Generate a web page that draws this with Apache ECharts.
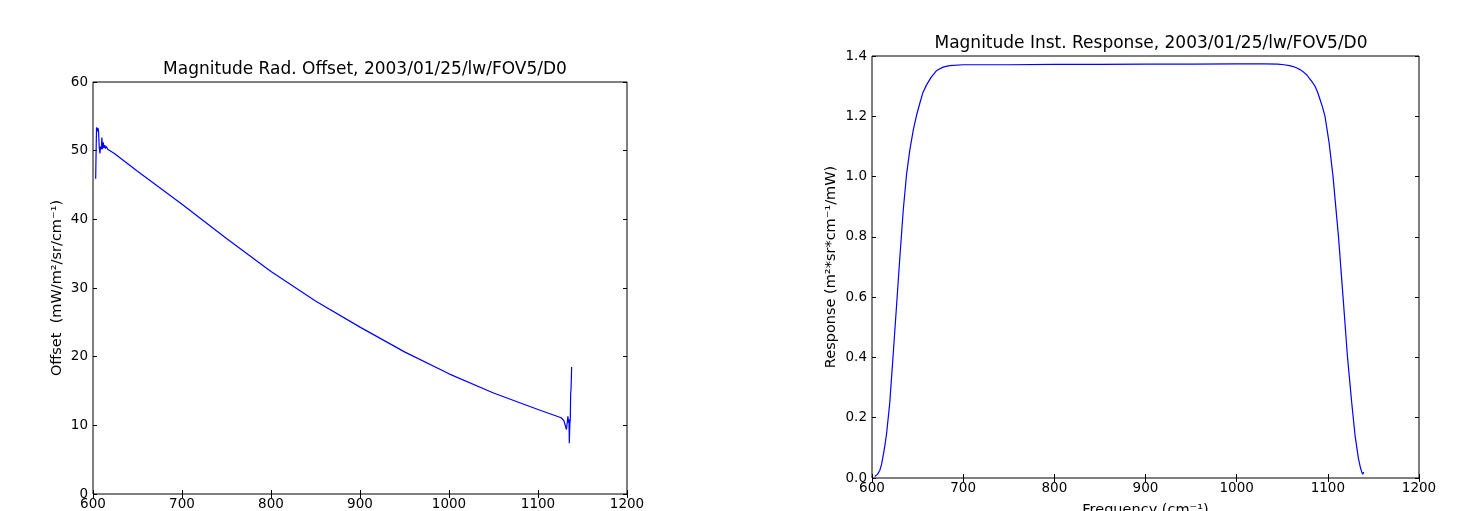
<!DOCTYPE html>
<html>
<head>
<meta charset="utf-8">
<script src="https://cdn.jsdelivr.net/npm/echarts@6/dist/echarts.min.js"></script>
<style>
  html, body { margin: 0; padding: 0; background: #fff; }
  #main { width: 1461px; height: 511px; }
</style>
</head>
<body>
<div id="main"></div>
<script>
// left panel: radiometric offset
var offsetFreq = [603, 603.5, 604, 605, 605.5, 606.2, 607, 607.8, 608.5, 609.3, 610, 610.6, 611.5, 612.3, 613.2, 614, 615, 616.5, 618, 624,
    650, 700, 750, 800, 850, 900, 950, 1000, 1050, 1100, 1126, 1128, 1129, 1130, 1131, 1132, 1133, 1133.6, 1134.3, 1134.8,
    1135.2, 1135.8, 1136.3, 1136.7, 1137.1, 1137.5, 1137.8];
var offsetVal = [45.9, 50, 53.4, 52.8, 53.3, 52.9, 50.5, 49.6, 50.6, 50.2, 51.9, 50.2, 51.2, 50.4, 50.8, 50.3, 50.6, 50.2, 50.1, 49.6,
    47.0, 42.2, 37.2, 32.4, 28.1, 24.3, 20.7, 17.5, 14.7, 12.3, 11.1, 10.9, 10.7, 10.9, 10.5, 9.4, 10.6, 11.3, 10.4, 10.9,
    7.4, 10.2, 10.9, 14.6, 15.2, 15.0, 18.5];

// right panel: instrument response
var respFreq = [603, 606, 608.5, 610.5, 612, 614, 616, 619.5, 623, 627, 630.5, 634.3, 638, 641.6, 645.3, 649, 652.6, 656, 660, 665,
    671, 678, 685, 700, 750, 800, 850, 900, 950, 1000, 1030, 1045, 1052, 1058, 1062, 1066, 1070, 1074, 1077, 1080,
    1083, 1085.9, 1088.5, 1091, 1094, 1096.9, 1101.5, 1105.7, 1111.7, 1116.7, 1121.6, 1126.2, 1129.9, 1133.5, 1135.5, 1137.2,
    1138.3, 1139.3];
var respVal = [0.005, 0.012, 0.025, 0.045, 0.07, 0.105, 0.147, 0.25, 0.40, 0.575, 0.73, 0.89, 1.01, 1.09, 1.155, 1.205, 1.245, 1.28, 1.305, 1.33,
    1.352, 1.363, 1.368, 1.371, 1.371, 1.372, 1.372, 1.373, 1.373, 1.374, 1.374, 1.373, 1.371, 1.368, 1.365, 1.36, 1.354, 1.345, 1.337, 1.325,
    1.313, 1.3, 1.282, 1.26, 1.232, 1.2, 1.11, 1.0, 0.8, 0.6, 0.4, 0.25, 0.14, 0.066, 0.038, 0.02,
    0.012, 0.02];

var titles = ['Magnitude Rad. Offset, 2003/01/25/lw/FOV5/D0', 'Magnitude Inst. Response, 2003/01/25/lw/FOV5/D0'];

function pairs(xs, ys) {
    var out = [];
    for (var i = 0; i < xs.length; i++) out.push([xs[i], ys[i]]);
    return out;
}

var font = 'DejaVu Sans';
var labelStyle = { color: '#000', fontFamily: font, fontSize: 13.5 };
var nameStyle = { color: '#000', fontFamily: font, fontSize: 14.5 };
var tick = { show: true, inside: true, length: 4, lineStyle: { color: '#000', width: 1 } };

// main axis + mirrored axis (top / right) with ticks only
function xAxes(grid, name) {
    return [
        { gridIndex: grid, type: 'value', min: 600, max: 1200, interval: 100, position: 'bottom',
          axisLine: { show: false }, axisTick: tick, splitLine: { show: false },
          axisLabel: Object.assign({ margin: 3, showMinLabel: true, showMaxLabel: true,
              formatter: function (v) { return String(v); } }, labelStyle),
          name: name, nameLocation: 'middle', nameGap: 25, nameTextStyle: nameStyle },
        { gridIndex: grid, type: 'value', min: 600, max: 1200, interval: 100, position: 'top',
          axisLine: { show: false }, axisTick: tick, splitLine: { show: false }, axisLabel: { show: false } }
    ];
}
function yAxes(grid, max, interval, name, fmt, gap) {
    return [
        { gridIndex: grid, type: 'value', min: 0, max: max, interval: interval, position: 'left',
          axisLine: { show: false }, axisTick: tick, splitLine: { show: false },
          axisLabel: Object.assign({ margin: 5, showMinLabel: true, showMaxLabel: true, formatter: fmt }, labelStyle),
          name: name, nameLocation: 'middle', nameGap: gap, nameRotate: 90, nameTextStyle: nameStyle },
        { gridIndex: grid, type: 'value', min: 0, max: max, interval: interval, position: 'right',
          axisLine: { show: false }, axisTick: tick, splitLine: { show: false }, axisLabel: { show: false } }
    ];
}

var chart = echarts.init(document.getElementById('main'));
var option = {
    animation: false,
    backgroundColor: '#fff',
    title: [
        { text: titles[0], left: 360, top: 56, textAlign: 'center',
          textStyle: { color: '#000', fontFamily: font, fontSize: 17, fontWeight: 'normal' } },
        { text: titles[1], left: 1146, top: 30, textAlign: 'center',
          textStyle: { color: '#000', fontFamily: font, fontSize: 17, fontWeight: 'normal' } }
    ],
    grid: [
        { left: 93, top: 82, width: 534, height: 412, show: true, borderColor: '#000', borderWidth: 1,
          backgroundColor: 'transparent', outerBoundsMode: 'none', containLabel: false },
        { left: 872, top: 56, width: 547, height: 422, show: true, borderColor: '#000', borderWidth: 1,
          backgroundColor: 'transparent', outerBoundsMode: 'none', containLabel: false }
    ],
    xAxis: xAxes(0, '').concat(xAxes(1, 'Frequency (cm\u207B\u00B9)')),
    yAxis: yAxes(0, 60, 10, 'Offset  (mW/m\u00B2/sr/cm\u207B\u00B9)', function (v) { return String(v); }, 28)
        .concat(yAxes(1, 1.4, 0.2, 'Response (m\u00B2*sr*cm\u207B\u00B9/mW)', function (v) { return v.toFixed(1); }, 33)),
    series: [
        { type: 'line', xAxisIndex: 0, yAxisIndex: 0, data: pairs(offsetFreq, offsetVal), showSymbol: false,
          lineStyle: { color: '#0000ff', width: 1.2 } },
        { type: 'line', xAxisIndex: 2, yAxisIndex: 2, data: pairs(respFreq, respVal), showSymbol: false,
          lineStyle: { color: '#0000ff', width: 1.2 } }
    ]
};
chart.setOption(option);
</script>
</body>
</html>
